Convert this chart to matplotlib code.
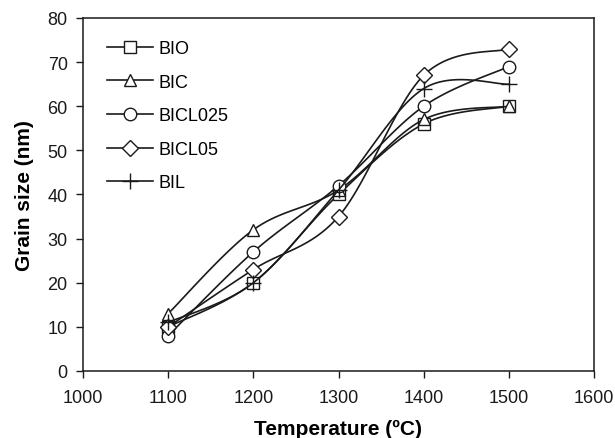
import numpy as np
import matplotlib.pyplot as plt
from matplotlib.lines import Line2D

plt.rcParams['font.family'] = ['Liberation Sans', 'DejaVu Sans']

temps = [1100, 1200, 1300, 1400, 1500]
names = ["BIO", "BIC", "BICL025", "BICL05", "BIL"]
bio = [10, 20, 40, 56, 60]
bic = [13, 32, 41, 57, 60]
bicl025 = [8, 27, 42, 60, 69]
bicl05 = [10, 23, 35, 67, 73]
bil = [11, 20, 41, 64, 65]
markers = ["s", "^", "o", "D", "+"]


def smooth(x, y, n=30):
    # courbe lissée type Excel (Catmull-Rom)
    x = np.asarray(x, float)
    y = np.asarray(y, float)
    px = np.concatenate([[x[0]], x, [x[-1]]])
    py = np.concatenate([[y[0]], y, [y[-1]]])
    xs, ys = [], []
    t = np.linspace(0, 1, n)
    for i in range(1, len(px) - 2):
        for p, out in ((px, xs), (py, ys)):
            p0, p1, p2, p3 = p[i - 1], p[i], p[i + 1], p[i + 2]
            c1 = p1 + (p2 - p0) / 6
            c2 = p2 - (p3 - p1) / 6
            b = ((1 - t) ** 3 * p1 + 3 * (1 - t) ** 2 * t * c1
                 + 3 * (1 - t) * t ** 2 * c2 + t ** 3 * p2)
            out.extend(b)
    return xs, ys


fig = plt.figure(figsize=(6.15, 4.39), dpi=100)
ax = fig.add_axes([83 / 615, 1 - 372 / 439, 511 / 615, 353 / 439])

handles = []
for name, vals, m in zip(names, [bio, bic, bicl025, bicl05, bil], markers):
    sx, sy = smooth(temps, vals)
    ax.plot(sx, sy, color="#1a1a1a", lw=1.2)
    ms = 11 if m == "+" else (8 if m == "D" else 9)
    ax.plot(temps, vals, ls="none", marker=m, ms=ms, mfc="white",
            mec="#1a1a1a", mew=1.0)
    handles.append(Line2D([], [], color="#1a1a1a", lw=1.2, marker=m, ms=ms,
                          mfc="white", mec="#1a1a1a", mew=1.0, label=name))

ax.set_xlim(1000, 1600)
ax.set_ylim(0, 80)
ax.set_xticks(range(1000, 1601, 100))
ax.set_yticks(range(0, 81, 10))
ax.tick_params(direction="out", length=5, width=1, labelsize=13, colors="#1a1a1a")
ax.tick_params(axis="x", pad=8)
ax.tick_params(axis="y", pad=6)
for s in ax.spines.values():
    s.set_linewidth(1.1)
    s.set_color("#1a1a1a")
ax.set_xlabel("Temperature (ºC)", fontsize=15, fontweight="bold", labelpad=9)
ax.set_ylabel("Grain size (nm)", fontsize=15, fontweight="bold", labelpad=10)

ax.legend(handles=handles, loc="upper left", frameon=False, fontsize=13,
          handlelength=2.55, labelspacing=0.92, handletextpad=0.3,
          borderaxespad=0, bbox_to_anchor=(0.032, 0.958))

fig.savefig("out.png", dpi=100)
